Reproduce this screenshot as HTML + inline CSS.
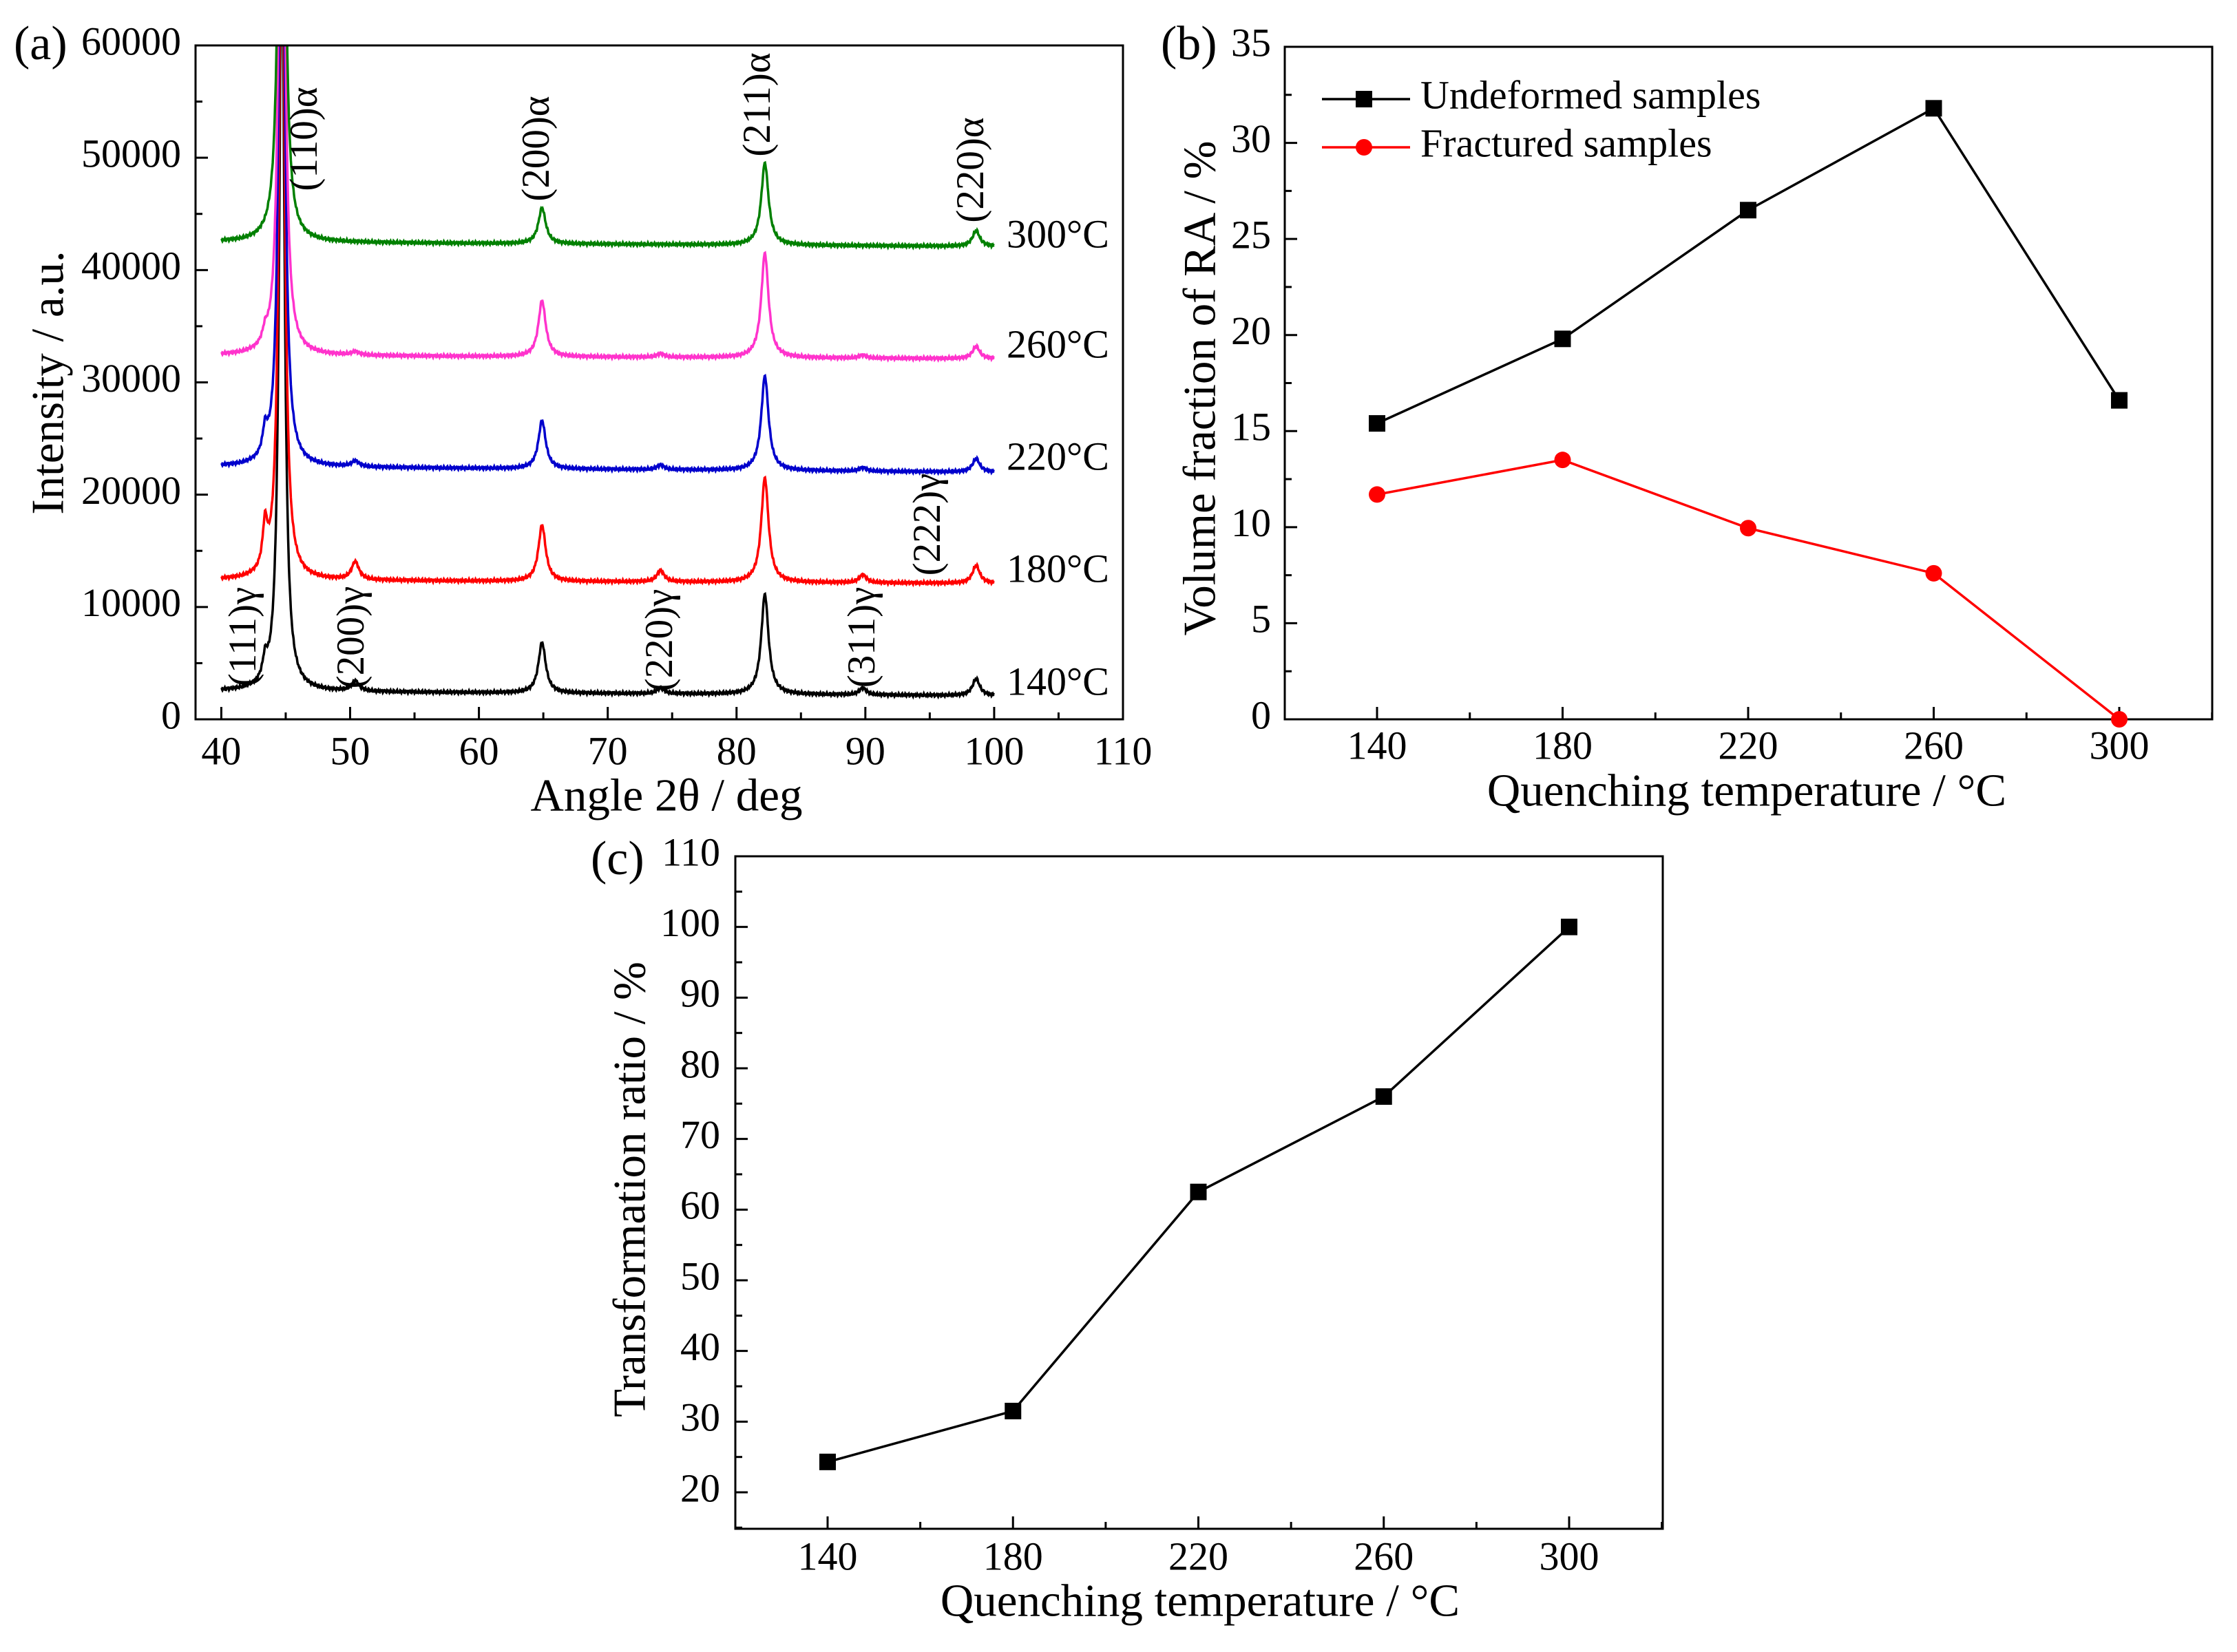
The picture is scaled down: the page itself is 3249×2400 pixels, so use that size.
<!DOCTYPE html>
<html><head><meta charset="utf-8"><style>
html,body{margin:0;padding:0;background:#fff;}
svg{display:block;font-family:"Liberation Serif","DejaVu Serif",serif;}
</style></head><body>
<svg id="fig" width="3249" height="2400" viewBox="0 0 3249 2400" xmlns="http://www.w3.org/2000/svg">
<defs><clipPath id="clipA"><rect x="284" y="66" width="1347" height="979"/></clipPath></defs>
<g id="pa"></g>
<g id="pb"></g>
<g id="pc"></g>
</svg>
<script>
// ---------- Panel (a) data ----------
const xrdSeries = ["140°C","180°C","220°C","260°C","300°C"];
const xrdColors = ["#000000","#ff0000","#0000cc","#ff33cc","#008000"];
const xrdBaseStart = [2500,12400,22500,32400,42500];
const xrdBaseEnd = [2100,12100,22000,32100,42100];
const xrdPeakPos = [43.4,44.7,50.4,64.9,74.1,82.2,89.8,98.6];
const xrdPeak140 = [1700,70000,900,4500,500,8900,600,1500];
const xrdPeak180 = [3800,70000,1600,5000,1000,9300,700,1600];
const xrdPeak220 = [2100,70000,500,4300,400,8400,300,1200];
const xrdPeak260 = [1000,70000,300,5000,300,9300,250,1100];
const xrdPeak300 = [0,70000,0,3200,0,7300,0,1400];
const xrdPeaks = [xrdPeak140,xrdPeak180,xrdPeak220,xrdPeak260,xrdPeak300];
const xrdXTicks = [40,50,60,70,80,90,100,110];
const xrdYTicks = [0,10000,20000,30000,40000,50000,60000];
// ---------- Panel (b) data ----------
const bCats = [140,180,220,260,300];
const bUndeformed = [15.4,19.8,26.5,31.8,16.6];
const bFractured = [11.7,13.5,9.95,7.6,0];
const bYTicks = [0,5,10,15,20,25,30,35];
// ---------- Panel (c) data ----------
const cCats = [140,180,220,260,300];
const cRatio = [24.3,31.5,62.5,76,100];
const cYTicks = [20,30,40,50,60,70,80,90,100,110];

const NS="http://www.w3.org/2000/svg";
const TF=58, TT=67, LF=70;
function mk(parent,tag,attrs,text){const e=document.createElementNS(NS,tag);for(const k in attrs)e.setAttribute(k,attrs[k]);if(text!==undefined)e.textContent=text;parent.appendChild(e);return e;}
function lin(d0,d1,r0,r1){return v=>r0+(v-d0)*(r1-r0)/(d1-d0);}

// ===== Panel A =====
const pa=document.getElementById('pa');
const ax=lin(38,110,284,1631), ay=lin(0,60000,1045,66);
const tempY=[996,832,669,506,346];
xrdSeries.forEach((s,si)=>{
  let d="";
  for(let x=40;x<=100.0001;x+=0.03){
    let v=xrdBaseStart[si]+(xrdBaseEnd[si]-xrdBaseStart[si])*(x-40)/60;
    xrdPeaks[si].forEach((h,pi)=>{const w=(pi===1?0.24:(pi===0?0.22:0.34));const t=(x-xrdPeakPos[pi])/w;v+=h/(1+t*t);});
    v+=140*Math.sin(x*37.1)*Math.cos(x*11.3);
    d+=(d?"L":"M")+ax(x).toFixed(1)+","+ay(v).toFixed(1);
  }
  const p=mk(pa,'path',{d:d,fill:'none',stroke:xrdColors[si],'stroke-width':3.5,'clip-path':'url(#clipA)'});
  
  
  const lb=mk(pa,'text',{x:1462,y:tempY[si],'font-size':58,'dominant-baseline':'middle'},s);
  
  
});
mk(pa,'rect',{x:284,y:66,width:1347,height:979,fill:'none',stroke:'#000','stroke-width':3});
for(let v=40;v<=110;v+=5){const X=ax(v);mk(pa,'line',{x1:X,x2:X,y1:1045,y2:1045-(v%10===0?18:10),stroke:'#000','stroke-width':3});}
xrdXTicks.forEach(v=>{const t=mk(pa,'text',{x:ax(v),y:1097,'font-size':TF,'text-anchor':'middle','dominant-baseline':'middle'},v);
 });
for(let v=0;v<=60000;v+=5000){const Y=ay(v);mk(pa,'line',{x1:284,x2:284+(v%10000===0?18:10),y1:Y,y2:Y,stroke:'#000','stroke-width':3});}
xrdYTicks.forEach(v=>{const t=mk(pa,'text',{x:263,y:ay(v),'font-size':TF,'text-anchor':'end','dominant-baseline':'middle'},v);
 });
let t;
t=mk(pa,'text',{x:968,y:1162,'font-size':TT,'text-anchor':'middle','dominant-baseline':'middle'},'Angle 2θ / deg');

t=mk(pa,'text',{x:0,y:0,'font-size':TT,'text-anchor':'middle','dominant-baseline':'middle',transform:'translate(76,556) rotate(-90)'},'Intensity / a.u.');

t=mk(pa,'text',{x:20,y:70,'font-size':LF,'dominant-baseline':'middle'},'(a)');

const peakLabels=[["(110)α",447,202],["(200)α",784,216],["(211)α",1105,152],["(220)α",1415,247],["(111)γ",358,925],["(200)γ",515,926],["(220)γ",963,930],["(311)γ",1257,926],["(222)γ",1352,762]];
peakLabels.forEach(p=>{const e=mk(pa,'text',{x:0,y:0,'font-size':57,'text-anchor':'middle','dominant-baseline':'middle',transform:`translate(${p[1]},${p[2]}) rotate(-90)`},p[0]);
 });

// ===== Panel B =====
const pb=document.getElementById('pb');
const bx=lin(140,300,2000,3078), by=lin(0,35,1045,68);
mk(pb,'rect',{x:1866,y:68,width:1347,height:977,fill:'none',stroke:'#000','stroke-width':3});
for(let v=120;v<=320;v+=20){const X=bx(v);if(X<1866||X>3213)continue;mk(pb,'line',{x1:X,x2:X,y1:1045,y2:1045-(v%40===20?18:10),stroke:'#000','stroke-width':3});}
bCats.forEach(v=>{const e=mk(pb,'text',{x:bx(v),y:1089,'font-size':TF,'text-anchor':'middle','dominant-baseline':'middle'},v);
 });
for(let v=0;v<=35;v+=2.5){const Y=by(v);mk(pb,'line',{x1:1866,x2:1866+(v%5===0?18:10),y1:Y,y2:Y,stroke:'#000','stroke-width':3});}
bYTicks.forEach(v=>{const e=mk(pb,'text',{x:1846,y:by(v),'font-size':TF,'text-anchor':'end','dominant-baseline':'middle'},v);
 });
function series(g,xs,ys,fx,fy,color,shape,name){
  const pts=xs.map((x,i)=>fx(x).toFixed(1)+","+fy(ys[i]).toFixed(1)).join(" ");
  const l=mk(g,'polyline',{points:pts,fill:'none',stroke:color,'stroke-width':3.5});
  
  xs.forEach((x,i)=>{let m;
    if(shape==='sq')m=mk(g,'rect',{x:fx(x)-12,y:fy(ys[i])-12,width:24,height:24,fill:color});
    else m=mk(g,'circle',{cx:fx(x),cy:fy(ys[i]),r:12,fill:color});
    });
}
series(pb,bCats,bUndeformed,bx,by,'#000','sq','undeformed');
series(pb,bCats,bFractured,bx,by,'#ff0000','ci','fractured');
let lg=mk(pb,'g',{});
mk(lg,'line',{x1:1920,x2:2048,y1:144,y2:144,stroke:'#000','stroke-width':3.5});
mk(lg,'rect',{x:1969,y:132,width:24,height:24,fill:'#000'});
mk(lg,'text',{x:2063,y:144,'font-size':TF,'dominant-baseline':'middle'},'Undeformed samples');
lg=mk(pb,'g',{});
mk(lg,'line',{x1:1920,x2:2048,y1:214,y2:214,stroke:'#ff0000','stroke-width':3.5});
mk(lg,'circle',{cx:1981,cy:214,r:12,fill:'#ff0000'});
mk(lg,'text',{x:2063,y:214,'font-size':TF,'dominant-baseline':'middle'},'Fractured samples');
t=mk(pb,'text',{x:2537,y:1155,'font-size':TT,'text-anchor':'middle','dominant-baseline':'middle'},'Quenching temperature / °C');

t=mk(pb,'text',{x:0,y:0,'font-size':TT,'text-anchor':'middle','dominant-baseline':'middle',transform:'translate(1749,564) rotate(-90)'},'Volume fraction of RA / %');

t=mk(pb,'text',{x:1686,y:70,'font-size':LF,'dominant-baseline':'middle'},'(b)');


// ===== Panel C =====
const pc=document.getElementById('pc');
const cx=lin(140,300,1202,2279), cy=lin(20,110,2168,1244);
mk(pc,'rect',{x:1068,y:1244,width:1347,height:977,fill:'none',stroke:'#000','stroke-width':3});
for(let v=120;v<=320;v+=20){const X=cx(v);if(X<1068||X>2415)continue;mk(pc,'line',{x1:X,x2:X,y1:2221,y2:2221-(v%40===20?18:10),stroke:'#000','stroke-width':3});}
cCats.forEach(v=>{const e=mk(pc,'text',{x:cx(v),y:2267,'font-size':TF,'text-anchor':'middle','dominant-baseline':'middle'},v);
 });
for(let v=15;v<=110;v+=5){const Y=cy(v);mk(pc,'line',{x1:1068,x2:1068+(v%10===0?18:10),y1:Y,y2:Y,stroke:'#000','stroke-width':3});}
cYTicks.forEach(v=>{const e=mk(pc,'text',{x:1046,y:cy(v),'font-size':TF,'text-anchor':'end','dominant-baseline':'middle'},v);
 });
series(pc,cCats,cRatio,cx,cy,'#000','sq','transformation-ratio');
t=mk(pc,'text',{x:1743,y:2332,'font-size':TT,'text-anchor':'middle','dominant-baseline':'middle'},'Quenching temperature / °C');

t=mk(pc,'text',{x:0,y:0,'font-size':TT,'text-anchor':'middle','dominant-baseline':'middle',transform:'translate(921,1728) rotate(-90)'},'Transformation ratio / %');

t=mk(pc,'text',{x:858,y:1254,'font-size':LF,'dominant-baseline':'middle'},'(c)');

</script>
</body></html>
